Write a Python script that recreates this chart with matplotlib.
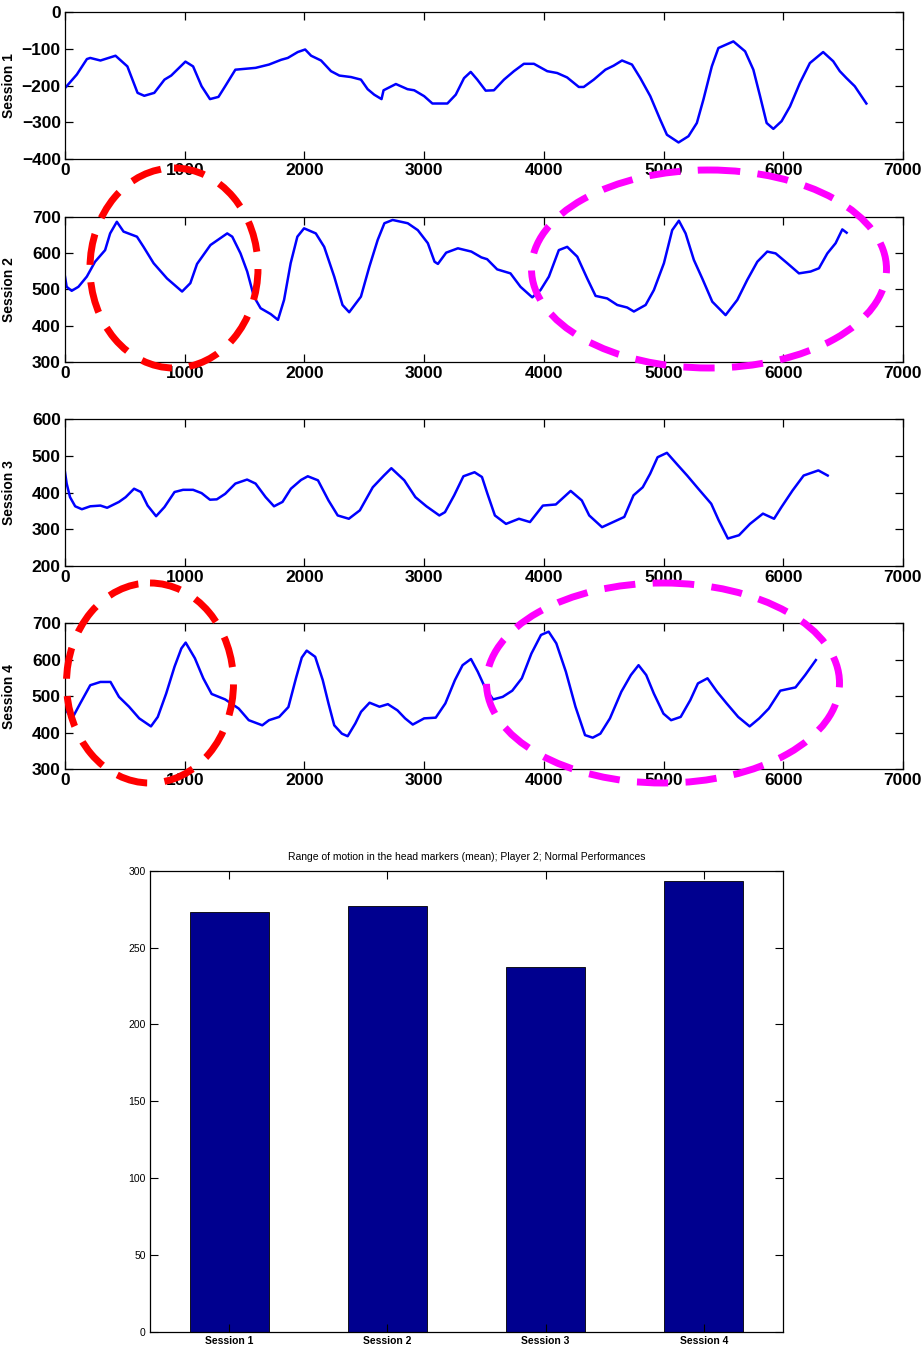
import matplotlib
matplotlib.use('Agg')
from matplotlib import pyplot as plt
from matplotlib import patches

plt.rcParams['font.family'] = ['Liberation Sans', 'DejaVu Sans']

# --- data ---
s1_x = [0, 99, 183, 211, 296, 422, 521, 606, 662, 746, 831, 887, 1006, 1070, 1141, 1211, 1282, 1338,
        1423, 1592, 1704, 1806, 1861, 1944, 2006, 2056, 2139, 2222, 2292, 2389, 2472, 2528, 2583, 2644,
        2661, 2764, 2861, 2917, 3000, 3069, 3194, 3264, 3333, 3389, 3444, 3514, 3583, 3667, 3750, 3833,
        3917, 4028, 4111, 4194, 4292, 4333, 4417, 4514, 4583, 4653, 4736, 4806, 4889, 4972, 5028, 5125,
        5208, 5278, 5333, 5403, 5458, 5583, 5681, 5750, 5806, 5861, 5917, 5986, 6056, 6139, 6222, 6333,
        6417, 6472, 6528, 6597, 6694]
s1_y = [-207, -170, -128, -125, -132, -119, -148, -220, -228, -220, -184, -173, -135, -148, -202, -237,
        -231, -202, -157, -152, -143, -130, -125, -109, -102, -119, -132, -161, -173, -177, -184, -210,
        -225, -237, -213, -196, -210, -213, -229, -249, -249, -225, -180, -163, -184, -214, -213, -184,
        -161, -141, -141, -161, -166, -178, -204, -204, -184, -157, -146, -132, -143, -180, -229, -293,
        -334, -355, -338, -302, -238, -148, -98, -80, -107, -157, -229, -302, -318, -297, -257, -193,
        -139, -109, -134, -161, -180, -202, -249]

s2_x = [0, 14, 56, 112, 182, 251, 335, 377, 433, 489, 601, 656, 740, 852, 978, 1047, 1103, 1215, 1355,
        1397, 1466, 1522, 1578, 1634, 1718, 1779, 1830, 1885, 1941, 1997, 2095, 2165, 2249, 2318, 2374,
        2472, 2542, 2612, 2668, 2737, 2863, 2947, 3031, 3087, 3115, 3184, 3282, 3394, 3478, 3526, 3610,
        3721, 3805, 3903, 3972, 4042, 4125, 4195, 4279, 4362, 4432, 4529, 4613, 4696, 4752, 4850, 4919,
        5003, 5072, 5128, 5184, 5253, 5323, 5407, 5518, 5616, 5699, 5783, 5866, 5936, 6033, 6131, 6228,
        6298, 6368, 6437, 6493, 6529]
s2_y = [535, 507, 496, 507, 535, 576, 608, 654, 686, 659, 645, 617, 572, 530, 494, 517, 570, 622, 654,
        645, 599, 549, 480, 448, 432, 416, 471, 572, 645, 668, 654, 617, 535, 457, 437, 480, 562, 636,
        682, 691, 682, 663, 627, 576, 570, 601, 613, 604, 588, 583, 555, 544, 507, 478, 498, 535, 608,
        617, 590, 530, 482, 475, 457, 450, 439, 457, 498, 572, 663, 689, 654, 581, 530, 466, 429, 471,
        526, 576, 604, 599, 572, 544, 549, 558, 599, 627, 665, 656]

s3_x = [0, 14, 42, 85, 141, 211, 296, 352, 451, 507, 577, 634, 690, 761, 831, 915, 986, 1070, 1141,
        1211, 1268, 1338, 1423, 1521, 1592, 1676, 1746, 1817, 1887, 1972, 2028, 2113, 2201, 2278, 2371,
        2463, 2571, 2664, 2726, 2834, 2927, 3019, 3127, 3174, 3251, 3328, 3421, 3483, 3529, 3591, 3684,
        3792, 3884, 3992, 4100, 4224, 4317, 4379, 4486, 4579, 4672, 4749, 4826, 4888, 4950, 5028, 5120,
        5197, 5290, 5398, 5460, 5537, 5630, 5722, 5830, 5923, 5985, 6077, 6170, 6293, 6371]
s3_y = [456, 425, 388, 363, 355, 363, 365, 359, 375, 388, 411, 402, 365, 336, 361, 402, 408, 408, 399,
        381, 382, 397, 425, 436, 425, 388, 363, 375, 411, 435, 445, 434, 379, 338, 329, 352, 415, 447,
        467, 434, 388, 363, 338, 347, 393, 445, 456, 443, 397, 338, 315, 329, 320, 365, 368, 405, 379,
        338, 306, 320, 334, 393, 415, 452, 497, 509, 475, 447, 411, 370, 325, 275, 284, 315, 343, 329,
        361, 406, 447, 461, 447]

s4_x = [0, 28, 70, 127, 211, 296, 380, 451, 535, 620, 718, 775, 845, 915, 972, 1008, 1085, 1155, 1225,
        1338, 1451, 1535, 1648, 1704, 1789, 1866, 1930, 1978, 2019, 2090, 2153, 2201, 2249, 2313, 2361,
        2425, 2473, 2544, 2627, 2697, 2777, 2841, 2905, 3000, 3097, 3177, 3257, 3321, 3391, 3448, 3512,
        3576, 3656, 3736, 3816, 3896, 3976, 4040, 4104, 4184, 4264, 4344, 4408, 4472, 4552, 4647, 4727,
        4791, 4855, 4919, 4999, 5063, 5143, 5223, 5287, 5367, 5447, 5527, 5623, 5719, 5799, 5879, 5975,
        6102, 6183, 6272]
s4_y = [466, 452, 445, 480, 530, 539, 539, 498, 471, 439, 417, 443, 507, 581, 631, 647, 604, 549, 506,
        491, 466, 434, 420, 434, 443, 470, 550, 606, 625, 608, 544, 480, 420, 397, 390, 425, 457, 482,
        471, 478, 461, 439, 422, 439, 441, 480, 544, 585, 602, 567, 521, 491, 498, 515, 549, 617, 668,
        677, 645, 567, 471, 393, 386, 397, 439, 512, 558, 585, 558, 507, 452, 434, 443, 489, 535, 549,
        512, 480, 443, 417, 439, 466, 515, 524, 558, 599]

sessions = ['Session 1', 'Session 2', 'Session 3', 'Session 4']
ylims = [(-400, 0), (300, 700), (200, 600), (300, 700)]
yticks = [[-400, -300, -200, -100, 0], [300, 400, 500, 600, 700],
          [200, 300, 400, 500, 600], [300, 400, 500, 600, 700]]
xticks = [0, 1000, 2000, 3000, 4000, 5000, 6000, 7000]

bar_values = [273, 277, 237, 293]
bar_ticks = [0, 50, 100, 150, 200, 250, 300]
bar_title = 'Range of motion in the head markers (mean); Player 2; Normal Performances'

W, H = 924, 1347
fig = plt.figure(figsize=(W / 100, H / 100), dpi=100)

# axes boxes in pixels: (left, top, right, bottom)
boxes = [(65, 12, 903, 159), (65, 216.7, 903, 362), (65, 419.5, 903, 566), (65, 623.3, 903, 769)]
series = [(s1_x, s1_y), (s2_x, s2_y), (s3_x, s3_y), (s4_x, s4_y)]

for i, (l, t, r, b) in enumerate(boxes):
    ax = fig.add_axes([l / W, 1 - b / H, (r - l) / W, (b - t) / H])
    ax.plot(series[i][0], series[i][1], color='#0000ff', lw=1.8)
    ax.set_xlim(0, 7000)
    ax.set_ylim(*ylims[i])
    ax.set_xticks(xticks)
    ax.set_yticks(yticks[i])
    ax.tick_params(direction='in', length=6, width=0.9, top=True, right=True,
                   labelsize=12.5, pad=3)
    for lab in ax.get_xticklabels() + ax.get_yticklabels():
        lab.set_fontweight('bold')
    ax.set_ylabel(sessions[i], fontsize=10, fontweight='bold')
    ax.yaxis.set_label_coords(-0.058, 0.5)
    for sp in ax.spines.values():
        sp.set_linewidth(0.9)

# bar chart
l, t, r, b = 150, 870.7, 783, 1331.5
bx = fig.add_axes([l / W, 1 - b / H, (r - l) / W, (b - t) / H])
pos = list(range(1, len(bar_values) + 1))
bx.bar(pos, bar_values, width=0.5, color='#00008f', edgecolor='black', linewidth=0.6)
bx.set_xlim(0.5, 4.5)
bx.set_ylim(0, 300)
bx.set_xticks(pos)
bx.set_xticklabels(sessions, fontsize=7.5, fontweight='bold')
bx.set_yticks(bar_ticks)
bx.tick_params(axis='y', labelsize=7.5)
bx.tick_params(direction='in', length=6, width=0.8, top=True, right=True, pad=3)
bx.set_title(bar_title, fontsize=7.5, pad=8)
for sp in bx.spines.values():
    sp.set_linewidth(0.9)

# dashed ellipses drawn on an overlay in pixel space
ov = fig.add_axes([0, 0, 1, 1], facecolor='none')
ov.set_xlim(0, W)
ov.set_ylim(H, 0)
ov.axis('off')
ellipses = [((174, 268), 168, 200, '#ff0000'),
            ((709, 269), 355, 198, '#ff00ff'),
            ((150, 683), 167, 200, '#ff0000'),
            ((663, 683), 353, 200, '#ff00ff')]
for c, w, h, col in ellipses:
    e = patches.Ellipse(c, w, h, fill=False, edgecolor=col, linewidth=5,
                        linestyle=(0, (4.5, 2.5)))
    ov.add_patch(e)

fig.savefig('out.png', dpi=100)
